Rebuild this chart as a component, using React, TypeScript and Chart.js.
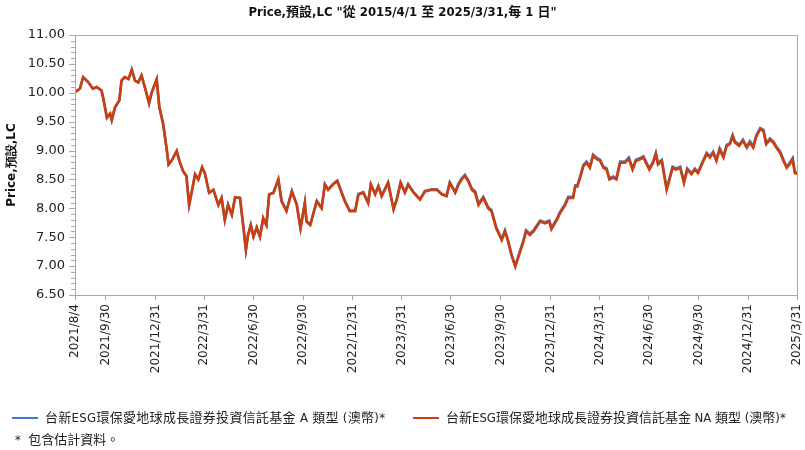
import React, { useEffect, useRef } from "react";
import { Chart, registerables } from "chart.js";

Chart.register(...registerables);

const titleText = 'Price,預設,LC "從 2015/4/1 至 2025/3/31,每 1 日"';
const yTitle = "Price,預設,LC";
const startDate = "2021-08-04";
const tickLabels = [
  "2021/8/4", "2021/9/30", "2021/12/31", "2022/3/31", "2022/6/30", "2022/9/30",
  "2022/12/31", "2023/3/31", "2023/6/30", "2023/9/30", "2023/12/31", "2024/3/31",
  "2024/6/30", "2024/9/30", "2024/12/31", "2025/3/31",
];
const seriesNames = [
  "台新ESG環保愛地球成長證券投資信託基金 A 類型 (澳幣)*",
  "台新ESG環保愛地球成長證券投資信託基金 NA 類型 (澳幣)*",
];
const footnote = "*  包含估計資料。";

// day offsets from startDate
const days = [
  0, 9, 15, 24, 33, 40, 49, 52, 59, 65,
  68, 74, 82, 86, 92, 99, 105, 111, 117, 123,
  129, 137, 142, 151, 156, 163, 170, 173, 179, 188,
  193, 200, 206, 211, 216, 222, 228, 235, 240, 248,
  256, 265, 271, 277, 283, 290, 296, 305, 311, 316,
  320, 325, 330, 336, 342, 348, 354, 359, 367, 376,
  382, 391, 401, 410, 417, 425, 428, 435, 447, 456,
  462, 468, 478, 485, 493, 499, 508, 518, 524, 533,
  542, 547, 555, 561, 567, 579, 589, 595, 602, 610,
  616, 626, 638, 647, 660, 669, 678, 687, 693, 703,
  709, 715, 721, 727, 734, 740, 746, 755, 764, 770,
  779, 789, 795, 801, 807, 814, 820, 829, 834, 841,
  848, 860, 869, 877, 881, 891, 897, 906, 912, 921,
  925, 929, 934, 940, 946, 952, 958, 965, 971, 977,
  983, 988, 995, 1001, 1008, 1017, 1024, 1031, 1037, 1045,
  1051, 1062, 1069, 1074, 1078, 1085, 1094, 1100, 1105, 1111,
  1119, 1126, 1132, 1140, 1146, 1152, 1162, 1168, 1174, 1180,
  1186, 1192, 1199, 1205, 1211, 1216, 1220, 1228, 1235, 1242,
  1248, 1254, 1260, 1267, 1273, 1278, 1285, 1291, 1297, 1304,
  1310, 1316, 1321, 1327, 1331, 1335,
];

const priceNA = [
  10.01, 10.07, 10.27, 10.19, 10.07, 10.10, 10.04, 9.92, 9.57, 9.64,
  9.53, 9.75, 9.87, 10.21, 10.27, 10.24, 10.40, 10.21, 10.18, 10.30,
  10.10, 9.82, 10.01, 10.23, 9.75, 9.46, 8.99, 8.76, 8.83, 8.99,
  8.82, 8.64, 8.56, 8.06, 8.29, 8.59, 8.50, 8.71, 8.61, 8.27,
  8.32, 8.06, 8.18, 7.80, 8.06, 7.89, 8.19, 8.18, 7.71, 7.28,
  7.54, 7.71, 7.51, 7.67, 7.51, 7.83, 7.71, 8.24, 8.27, 8.50,
  8.12, 7.95, 8.29, 8.06, 7.65, 8.09, 7.77, 7.71, 8.12, 8.00,
  8.41, 8.32, 8.42, 8.47, 8.27, 8.12, 7.95, 7.95, 8.24, 8.27,
  8.09, 8.41, 8.24, 8.38, 8.21, 8.44, 7.98, 8.15, 8.44, 8.27,
  8.41, 8.27, 8.15, 8.29, 8.32, 8.32, 8.24, 8.21, 8.44, 8.27,
  8.41, 8.50, 8.56, 8.47, 8.32, 8.27, 8.06, 8.18, 8.00, 7.95,
  7.65, 7.45, 7.60, 7.42, 7.19, 6.99, 7.16, 7.42, 7.60, 7.54,
  7.60, 7.77, 7.74, 7.77, 7.64, 7.80, 7.92, 8.05, 8.18, 8.18,
  8.38, 8.38, 8.53, 8.73, 8.79, 8.70, 8.91, 8.85, 8.82, 8.70,
  8.67, 8.50, 8.53, 8.50, 8.79, 8.79, 8.86, 8.67, 8.82, 8.85,
  8.88, 8.67, 8.79, 8.94, 8.76, 8.82, 8.32, 8.53, 8.70, 8.67,
  8.70, 8.44, 8.67, 8.59, 8.67, 8.61, 8.82, 8.94, 8.88, 8.96,
  8.82, 9.02, 8.88, 9.08, 9.11, 9.25, 9.14, 9.08, 9.17, 9.05,
  9.14, 9.05, 9.25, 9.37, 9.34, 9.11, 9.19, 9.14, 9.05, 8.96,
  8.82, 8.70, 8.76, 8.85, 8.61, 8.60,
];

const priceA = [
  10.01, 10.07, 10.27, 10.19, 10.07, 10.10, 10.04, 9.92, 9.57, 9.64,
  9.53, 9.75, 9.87, 10.21, 10.27, 10.24, 10.40, 10.21, 10.18, 10.30,
  10.10, 9.82, 10.01, 10.23, 9.75, 9.46, 8.99, 8.76, 8.83, 8.99,
  8.82, 8.64, 8.56, 8.06, 8.29, 8.59, 8.50, 8.71, 8.61, 8.27,
  8.32, 8.06, 8.18, 7.80, 8.06, 7.89, 8.19, 8.18, 7.71, 7.28,
  7.54, 7.71, 7.51, 7.67, 7.51, 7.83, 7.71, 8.24, 8.27, 8.50,
  8.13, 7.96, 8.30, 8.07, 7.66, 8.10, 7.78, 7.72, 8.13, 8.01,
  8.42, 8.33, 8.43, 8.48, 8.28, 8.13, 7.96, 7.96, 8.25, 8.28,
  8.10, 8.42, 8.25, 8.39, 8.22, 8.45, 7.99, 8.16, 8.45, 8.28,
  8.42, 8.28, 8.16, 8.30, 8.33, 8.33, 8.25, 8.22, 8.45, 8.28,
  8.43, 8.52, 8.58, 8.49, 8.34, 8.29, 8.08, 8.20, 8.02, 7.97,
  7.67, 7.47, 7.62, 7.44, 7.21, 7.01, 7.18, 7.44, 7.62, 7.56,
  7.62, 7.79, 7.76, 7.79, 7.66, 7.82, 7.94, 8.07, 8.20, 8.20,
  8.40, 8.40, 8.55, 8.75, 8.81, 8.72, 8.93, 8.87, 8.84, 8.72,
  8.69, 8.52, 8.55, 8.52, 8.81, 8.81, 8.88, 8.69, 8.84, 8.87,
  8.90, 8.69, 8.81, 8.96, 8.78, 8.84, 8.34, 8.55, 8.72, 8.69,
  8.72, 8.46, 8.69, 8.61, 8.69, 8.63, 8.84, 8.96, 8.90, 8.98,
  8.84, 9.04, 8.90, 9.10, 9.13, 9.27, 9.16, 9.10, 9.19, 9.07,
  9.16, 9.07, 9.27, 9.39, 9.36, 9.13, 9.21, 9.16, 9.07, 8.98,
  8.84, 8.72, 8.78, 8.87, 8.63, 8.62,
];

const yMin = 6.5;
const yMax = 11.0;
const yStep = 0.5;
const yMinorStep = 0.1;

const colorA = "#4577cf";
const colorNA = "#cc3f0c";
const frameColor = "#a8a8a8";
const fontFamily = "'DejaVu Sans', Verdana, sans-serif";

function dayOffset(label: string): number {
  const [y, m, d] = label.split("/").map(Number);
  const s = new Date(startDate + "T00:00:00Z").getTime();
  const t = Date.UTC(y, m - 1, d);
  return Math.round((t - s) / 86400000);
}

const tickDays = tickLabels.map(dayOffset);

const framePlugin = {
  id: "framePlugin",
  afterDraw(chart: any) {
    const { ctx, chartArea } = chart;
    const ys = chart.scales.y;
    ctx.save();
    ctx.strokeStyle = frameColor;
    ctx.lineWidth = 1;
    ctx.strokeRect(
      Math.round(chartArea.left) + 0.5,
      Math.round(chartArea.top) + 0.5,
      Math.round(chartArea.right - chartArea.left),
      Math.round(chartArea.bottom - chartArea.top)
    );
    const n = Math.round((yMax - yMin) / yMinorStep);
    for (let i = 0; i <= n; i++) {
      const v = yMin + i * yMinorStep;
      const py = Math.round(ys.getPixelForValue(v)) + 0.5;
      const major = i % Math.round(yStep / yMinorStep) === 0;
      const len = major ? 6 : 4;
      ctx.beginPath();
      ctx.moveTo(chartArea.left - len, py);
      ctx.lineTo(chartArea.left, py);
      ctx.stroke();
    }
    ctx.restore();
  },
};

export default function App() {
  const ref = useRef<HTMLCanvasElement | null>(null);

  useEffect(() => {
    if (!ref.current) return;
    const chart = new Chart(ref.current, {
      type: "line",
      data: {
        datasets: [
          {
            label: seriesNames[1],
            data: days.map((d, i) => ({ x: d, y: priceNA[i] })),
            borderColor: colorNA,
            backgroundColor: colorNA,
            borderWidth: 2.6,
            pointRadius: 0,
            tension: 0,
          },
          {
            label: seriesNames[0],
            data: days.map((d, i) => ({ x: d, y: priceA[i] })),
            borderColor: colorA,
            backgroundColor: colorA,
            borderWidth: 2.6,
            pointRadius: 0,
            tension: 0,
          },
        ],
      },
      options: {
        responsive: false,
        animation: false,
        devicePixelRatio: 1,
        layout: { padding: { top: 35, right: 8, left: 0, bottom: 0 } },
        plugins: {
          legend: { display: false },
          title: { display: false },
          tooltip: { enabled: false },
        },
        scales: {
          x: {
            type: "linear",
            min: 0,
            max: dayOffset(tickLabels[tickLabels.length - 1]),
            afterBuildTicks: (scale: any) => {
              scale.ticks = tickDays.map((v) => ({ value: v }));
            },
            afterFit: (scale: any) => {
              scale.height = 155;
              scale.paddingLeft = 0;
              scale.paddingRight = 0;
            },
            grid: {
              display: true,
              drawOnChartArea: false,
              drawTicks: true,
              tickLength: 5,
              color: frameColor,
            },
            border: { display: false },
            ticks: {
              autoSkip: false,
              minRotation: 90,
              maxRotation: 90,
              padding: 4,
              color: "#222",
              font: { family: fontFamily, size: 12 },
              callback: (v: any) => {
                const idx = tickDays.indexOf(Number(v));
                return idx >= 0 ? tickLabels[idx] : "";
              },
            },
          },
          y: {
            min: yMin,
            max: yMax,
            afterFit: (scale: any) => {
              scale.width = 75;
              scale.paddingTop = 0;
              scale.paddingBottom = 0;
            },
            grid: { display: false, drawTicks: false },
            border: { display: false },
            ticks: {
              stepSize: yStep,
              padding: 10,
              color: "#222",
              font: { family: fontFamily, size: 13 },
              callback: (v: any) => Number(v).toFixed(2),
            },
            title: {
              display: true,
              text: yTitle,
              color: "#111",
              padding: { top: 5, bottom: 0 },
              font: { family: fontFamily, size: 12, weight: "bold" },
            },
          },
        },
      },
      plugins: [framePlugin],
    } as any);
    return () => chart.destroy();
  }, []);

  const legendFont = "'DejaVu Sans Condensed', 'DejaVu Sans', 'Noto Sans CJK TC', sans-serif";

  return (
    <div
      style={{
        position: "fixed",
        left: 0,
        top: 0,
        width: 805,
        height: 450,
        background: "#fff",
        overflow: "hidden",
      }}
    >
      <canvas ref={ref} width={805} height={450} style={{ width: 805, height: 450, display: "block" }} />
      <div
        style={{
          position: "absolute",
          left: 0,
          top: 3,
          width: 805,
          textAlign: "center",
          fontFamily: legendFont,
          fontWeight: "bold",
          fontSize: 13,
          color: "#111",
          lineHeight: "18px",
        }}
      >
        {titleText}
      </div>
      <div
        style={{
          position: "absolute",
          left: 12,
          top: 409,
          fontFamily: legendFont,
          fontSize: 13,
          color: "#222",
          lineHeight: "18px",
          whiteSpace: "nowrap",
        }}
      >
        <span style={{ position: "absolute", left: 0, top: 8, width: 26, height: 2, background: colorA }} />
        <span style={{ position: "absolute", left: 33, top: 0, letterSpacing: 0.3 }}>{seriesNames[0]}</span>
        <span style={{ position: "absolute", left: 401, top: 8, width: 26, height: 2, background: colorNA }} />
        <span style={{ position: "absolute", left: 434, top: 0 }}>{seriesNames[1]}</span>
      </div>
      <div
        style={{
          position: "absolute",
          left: 15,
          top: 431,
          fontFamily: legendFont,
          fontSize: 13,
          color: "#222",
          lineHeight: "18px",
          whiteSpace: "pre",
        }}
      >
        {footnote}
      </div>
    </div>
  );
}
